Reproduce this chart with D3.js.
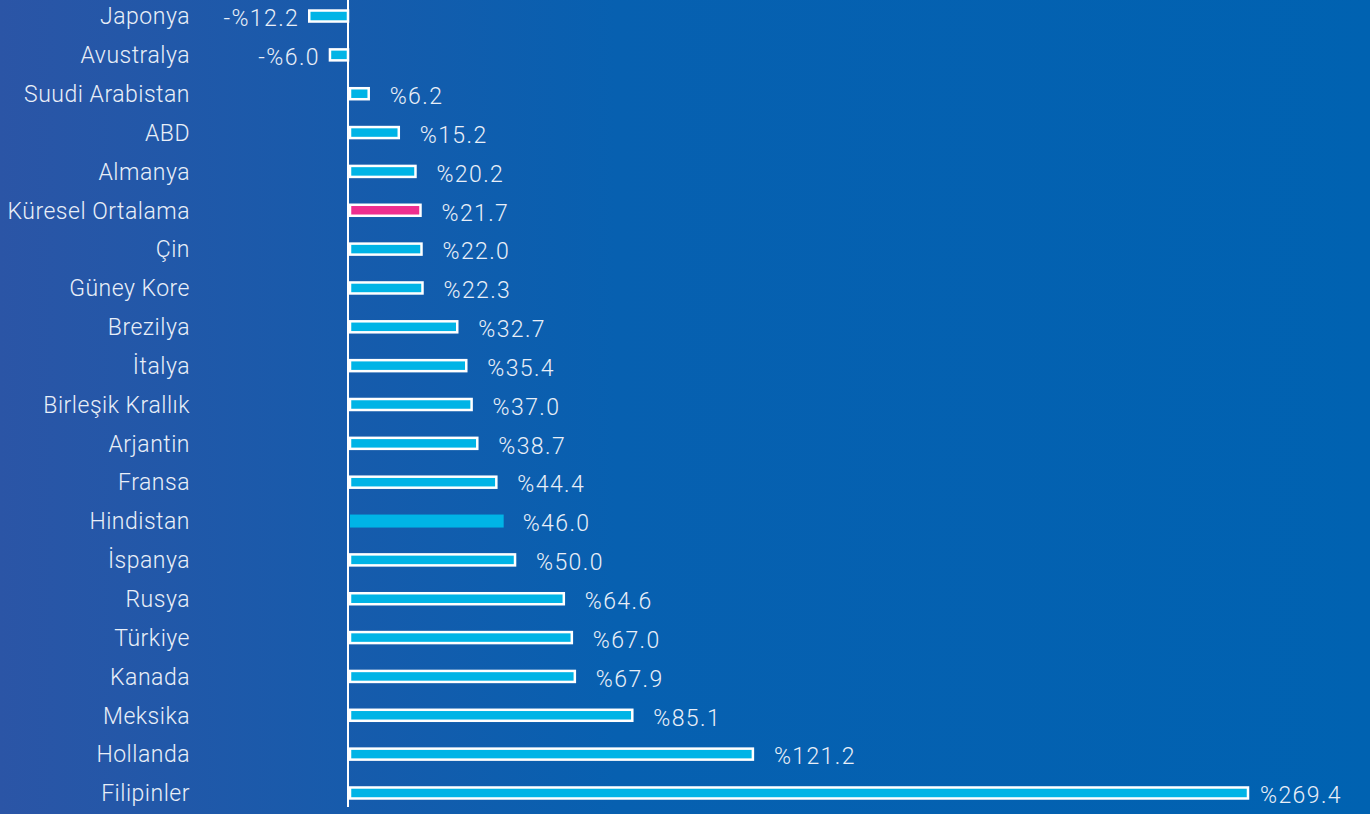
<!DOCTYPE html>
<html>
<head>
<meta charset="utf-8">
<script src="https://cdn.jsdelivr.net/npm/d3@7"></script>
<style>
  html, body { margin: 0; padding: 0; overflow: hidden; }
  svg { display: block; }
</style>
</head>
<body>
<svg id="chart"></svg>
<script>
// Data
const countries = ["Japonya", "Avustralya", "Suudi Arabistan", "ABD", "Almanya", "Küresel Ortalama", "Çin",
  "Güney Kore", "Brezilya", "İtalya", "Birleşik Krallık", "Arjantin", "Fransa", "Hindistan", "İspanya",
  "Rusya", "Türkiye", "Kanada", "Meksika", "Hollanda", "Filipinler"];
const values = [-12.2, -6.0, 6.2, 15.2, 20.2, 21.7, 22.0, 22.3, 32.7, 35.4, 37.0, 38.7, 44.4, 46.0, 50.0,
  64.6, 67.0, 67.9, 85.1, 121.2, 269.4];
const highlightAvg = "Küresel Ortalama";
const highlightNoBorder = "Hindistan";

const data = countries.map((c, i) => ({ country: c, value: values[i] }));

const W = 1370, H = 814;
const svg = d3.select("#chart").attr("width", W).attr("height", H);

// Background gradient
const defs = svg.append("defs");
const grad = defs.append("linearGradient").attr("id", "bg").attr("x1", "0").attr("x2", "1").attr("y1", "0").attr("y2", "0");
grad.append("stop").attr("offset", "0%").attr("stop-color", "#2b55a6");
grad.append("stop").attr("offset", "45%").attr("stop-color", "#0760b0");
grad.append("stop").attr("offset", "100%").attr("stop-color", "#0062b1");
svg.append("rect").attr("width", W).attr("height", H).attr("fill", "url(#bg)");

// Scales
const x = d3.scaleLinear().domain([0, 269.4]).range([349, 1249]);
const y = d3.scaleBand().domain(countries).range([-3.4, 812.4]);
const barH = 11;

const fontFam = "Roboto, 'Liberation Sans', sans-serif";
const textColor = "#e9eff8";

// Axis line at zero
svg.append("line")
  .attr("x1", x(0) - 1).attr("x2", x(0) - 1)
  .attr("y1", 0).attr("y2", 807)
  .attr("stroke", "#ffffff")
  .attr("stroke-width", 2);

// Bars
svg.selectAll(".bar")
  .data(data)
  .enter()
  .append("rect")
  .attr("class", "bar")
  .attr("x", d => Math.min(x(0), x(d.value)) + 1)
  .attr("width", d => Math.abs(x(d.value) - x(0)) - (d.country === highlightNoBorder ? 0 : 2))
  .attr("y", d => {
    const h = d.country === highlightNoBorder ? 13 : barH;
    return y(d.country) + y.bandwidth() / 2 - h / 2;
  })
  .attr("height", d => d.country === highlightNoBorder ? 13 : barH)
  .attr("fill", d => d.country === highlightAvg ? "#ee2e8f" : "#00b4e6")
  .attr("stroke", d => d.country === highlightNoBorder ? "none" : "#ffffff")
  .attr("stroke-width", 2.5);

// Category labels
svg.selectAll(".cat")
  .data(data)
  .enter()
  .append("text")
  .attr("class", "cat")
  .attr("x", 190)
  .attr("y", d => y(d.country) + y.bandwidth() / 2)
  .attr("dy", "0.36em")
  .attr("text-anchor", "end")
  .style("font-family", fontFam)
  .style("font-size", "23px")
  .style("font-weight", 300)
  .style("letter-spacing", "0.5px")
  .style("fill", textColor)
  .text(d => d.country);

// Value labels
const fmt = v => (v < 0 ? "-%" : "%") + Math.abs(v).toFixed(1);
svg.selectAll(".val")
  .data(data)
  .enter()
  .append("text")
  .attr("class", "val")
  .attr("x", d => d.value < 0 ? x(d.value) - 9 : Math.min(x(d.value) + 20, 1260))
  .attr("y", d => y(d.country) + y.bandwidth() / 2 + 2)
  .attr("dy", "0.36em")
  .attr("text-anchor", d => d.value < 0 ? "end" : "start")
  .style("font-family", fontFam)
  .style("font-size", "23px")
  .style("font-weight", 300)
  .style("letter-spacing", "1.4px")
  .style("fill", textColor)
  .text(d => fmt(d.value));
</script>
</body>
</html>
